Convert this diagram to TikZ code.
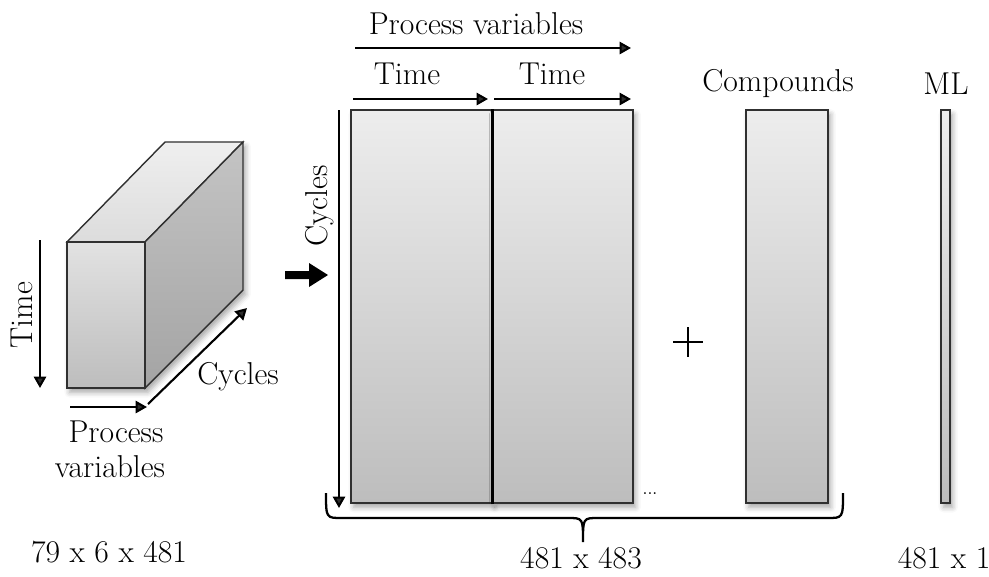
\documentclass[tikz,border=0pt]{standalone}
\usetikzlibrary{arrows.meta,shadows.blur}
\definecolor{edge}{HTML}{303030}
\definecolor{boxtop}{HTML}{EDEDED}
\definecolor{boxbot}{HTML}{BDBDBD}
\definecolor{sidetop}{HTML}{C4C4C4}
\definecolor{sidebot}{HTML}{A4A4A4}
\definecolor{toptop}{HTML}{EFEFEF}
\definecolor{topbot}{HTML}{DCDCDC}
\begin{document}
\begin{tikzpicture}[x=0.02cm,y=-0.02cm,
  font=\fontsize{18}{21}\selectfont,
  arr/.style={line width=1.2pt,-{Triangle[length=6.5pt,width=7pt]}},
  mbox/.style={draw=edge,line width=0.8pt,top color=boxtop,bottom color=boxbot,inner sep=0pt,
    blur shadow={shadow xshift=1.5pt,shadow yshift=-2.5pt,shadow blur radius=3pt,shadow opacity=35}},
  lbl/.style={inner sep=1pt}]
\useasboundingbox (0,0) rectangle (989,576);

% ---------- cube ----------
\coordinate (fa) at (67,242);
\coordinate (fb) at (145,242);
\coordinate (fc) at (145,388);
\coordinate (fd) at (67,388);
\coordinate (ba) at (165,142);
\coordinate (bb) at (243,142);
\coordinate (bc) at (243,290);
\fill[white,blur shadow={shadow xshift=1.5pt,shadow yshift=-2.5pt,shadow blur radius=3pt,shadow opacity=35}]
  (fa) -- (ba) -- (bb) -- (bc) -- (fc) -- (fd) -- cycle;
\draw[draw=edge,line width=0.8pt,top color=toptop,bottom color=topbot] (fa) -- (ba) -- (bb) -- (fb) -- cycle;
\draw[draw=edge,line width=0.8pt,top color=sidetop,bottom color=sidebot] (fb) -- (bb) -- (bc) -- (fc) -- cycle;
\draw[draw=edge,line width=0.8pt,top color=boxtop!90!gray,bottom color=boxbot] (fa) rectangle (fc);

% cube axes
\coordinate (tA) at (40,240); \coordinate (tB) at (40,388);
\draw[arr] (tA) -- (tB);
\node[lbl,rotate=90] (timeL) at (22,315) {Time};
\coordinate (pA) at (70,407); \coordinate (pB) at (147,407);
\draw[arr] (pA) -- (pB);
\node[lbl] (procL) at (116,432) {Process};
\node[lbl] (varL) at (110,467) {variables};
\coordinate (cA) at (148,404); \coordinate (cB) at (247,308);
\draw[arr] (cA) -- (cB);
\node[lbl] (cycL) at (238,377) {Cycles};
\node[lbl] (dim1) at (109,552) {79 x 6 x 481};

% big arrow
\fill (285,271) -- (309,271) -- (309,263) -- (328,275) -- (309,287) -- (309,279) -- (285,279) -- cycle;

% ---------- unfolded matrix ----------
\node[mbox,minimum width=2.82cm,minimum height=7.86cm] (m1) at (421.5,306.5) {};
\node[mbox,minimum width=2.82cm,minimum height=7.86cm] (m2) at (562.5,306.5) {};
\draw[line width=1.6pt] (m1.north east) -- (m1.south east);

\node[lbl] (pvT) at (476,24) {Process variables};
\coordinate (pvA) at (355,48); \coordinate (pvB) at (631,48);
\draw[arr] (pvA) -- (pvB);
\node[lbl] (t1) at (407,74) {Time};
\node[lbl] (t2) at (552,74) {Time};
\coordinate (t1A) at (353,99); \coordinate (t1B) at (488,99);
\coordinate (t2A) at (494,99); \coordinate (t2B) at (631,99);
\draw[arr] (t1A) -- (t1B);
\draw[arr] (t2A) -- (t2B);

\coordinate (cyA) at (339,110); \coordinate (cyB) at (339,508);
\draw[arr] (cyA) -- (cyB);
\node[lbl,rotate=90] (cyT) at (320,206) {Cycles};

\node[inner sep=0pt,font=\fontsize{10}{12}\selectfont] (dots) at (650,494) {...};

% plus
\coordinate (plus) at (688,342);
\draw[line width=1.3pt] ([xshift=-15*0.02cm]plus) -- ([xshift=15*0.02cm]plus);
\draw[line width=1.3pt] ([yshift=15*0.02cm]plus) -- ([yshift=-15*0.02cm]plus);

\node[mbox,minimum width=1.64cm,minimum height=7.86cm] (comp) at (787,306.5) {};
\node[lbl] (compT) at (778,84) {Compounds};

\node[mbox,minimum width=0.18cm,minimum height=7.86cm] (ml) at (945.5,306.5) {};
\node[lbl] (mlT) at (946,84) {ML};

% brace
\draw[line width=1.3pt] (326,493)
  .. controls (326,518) .. (342,518) -- (568,518)
  .. controls (583,518) .. (583,542)
  .. controls (583,518) .. (598,518) -- (827,518)
  .. controls (843,518) .. (843,493);

\node[lbl] (dim2) at (581,558) {481 x 483};
\node[lbl] (dim3) at (944,558) {481 x 1};
\end{tikzpicture}
\end{document}
